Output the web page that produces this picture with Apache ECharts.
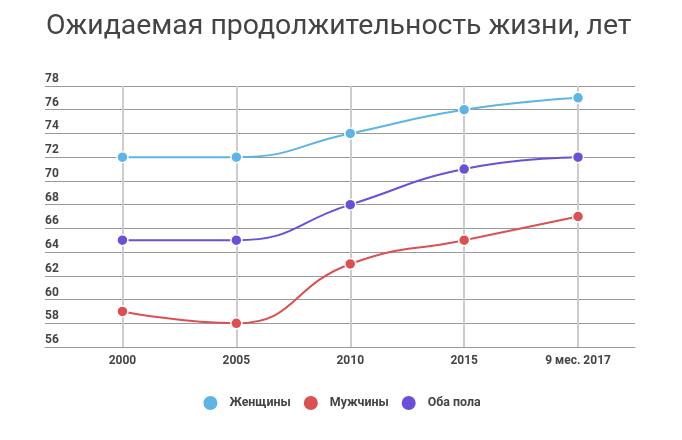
<!DOCTYPE html>
<html>
<head>
<meta charset="utf-8">
<script src="https://cdn.jsdelivr.net/npm/echarts@6/dist/echarts.min.js"></script>
<style>html,body{margin:0;padding:0;background:#fff}#c{width:682px;height:440px}</style>
</head>
<body>
<div id="c"></div>
<script>
const categories = ['2000', '2005', '2010', '2015', '9 мес. 2017'];
const women = [72, 72, 74, 76, 77];
const men = [59, 58, 63, 65, 67];
const both = [65, 65, 68, 71, 72];
const seriesNames = ['Женщины', 'Мужчины', 'Оба пола'];
const colors = ['#5cb5e6', '#dc5052', '#6b4fd9'];
const yTicks = [56, 58, 60, 62, 64, 66, 68, 70, 72, 74, 76, 78];

const idx = categories.map((c, i) => i);
const toPts = arr => arr.map((v, i) => [i, v]);

const chart = echarts.init(document.getElementById('c'), null, {renderer: 'canvas'});
const font = 'Roboto, "Noto Sans", sans-serif';
chart.setOption({
  animation: false,
  textStyle: {fontFamily: font},
  title: {
    text: 'Ожидаемая продолжительность жизни, лет',
    left: 41, top: 8,
    textStyle: {fontFamily: font, fontSize: 28.4, fontWeight: 'normal', color: '#444'}
  },
  legend: {
    bottom: 23, left: 'center',
    icon: 'circle', itemWidth: 16, itemHeight: 16, itemGap: 11,
    textStyle: {fontFamily: font, fontSize: 12.4, fontWeight: 'bold', color: '#444', padding: [0, 0, 0, 6]},
    data: seriesNames
  },
  grid: {left: 45, right: 47, top: 86, bottom: 93, containLabel: false},
  xAxis: {
    type: 'value',
    min: -0.68, max: 4.5,
    axisLine: {show: true, lineStyle: {color: '#999', width: 1}},
    axisTick: {show: false, customValues: idx},
    axisLabel: {
      customValues: idx,
      formatter: v => categories[Math.round(v)],
      fontFamily: font, fontSize: 12, fontWeight: 'bold', color: '#444', margin: 8
    },
    splitLine: {show: true, lineStyle: {color: '#ccc', width: 2}}
  },
  yAxis: {
    type: 'value',
    min: 56, max: 78, interval: 2,
    axisLine: {show: false},
    axisTick: {show: false},
    axisLabel: {
      inside: true, margin: 0,
      verticalAlign: 'bottom',
      padding: [0, 0, 1, 0],
      fontFamily: font, fontSize: 12, fontWeight: 'bold', color: '#444'
    },
    splitLine: {show: true, lineStyle: {color: '#999', width: 1}}
  },
  series: [
    {name: seriesNames[0], data: toPts(women), color: colors[0]},
    {name: seriesNames[1], data: toPts(men), color: colors[1]},
    {name: seriesNames[2], data: toPts(both), color: colors[2]}
  ].map(s => Object.assign({
    type: 'line', smooth: true, symbol: 'circle', symbolSize: 11,
    lineStyle: {width: 2},
    itemStyle: {borderColor: '#fff', borderWidth: 1.5},
    z: 3
  }, s))
});
</script>
</body>
</html>
